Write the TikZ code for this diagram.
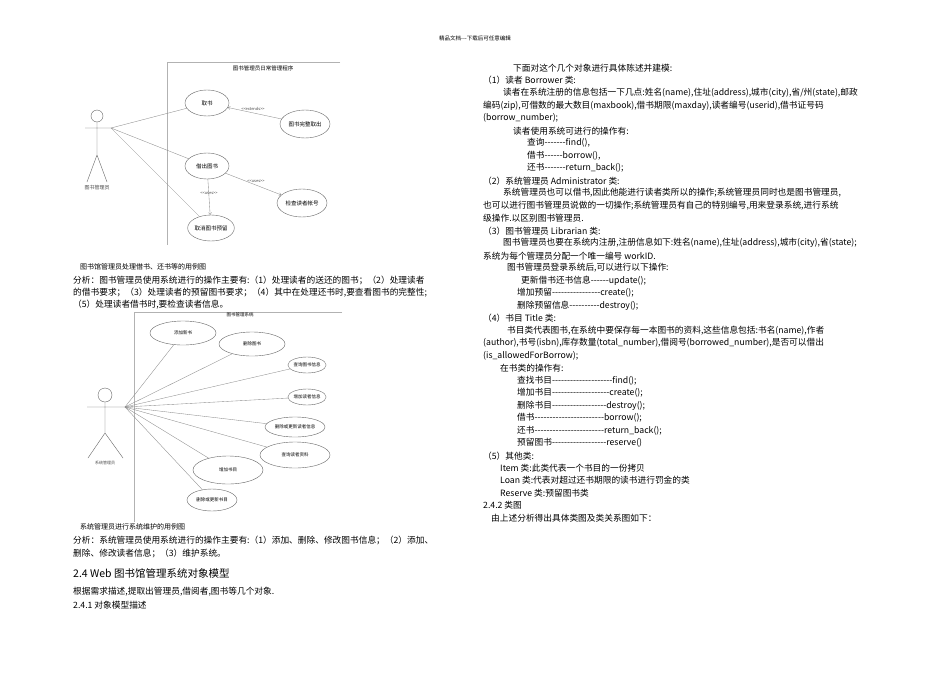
\documentclass[tikz,border=0pt]{standalone}
\usepackage{fontspec}
\setmainfont{Noto Sans CJK SC}[Ligatures=TeXOff]
\usetikzlibrary{shapes.geometric,arrows.meta}
\tikzset{
 txt/.style={anchor=west,inner sep=0pt,font=\fontsize{8.7}{10}\selectfont},
 captxt/.style={anchor=west,inner sep=0pt,font=\fontsize{7}{8}\selectfont},
 uc/.style={ellipse,draw=black!60,line width=0.4pt,inner sep=0pt,font=\fontsize{5.5}{6}\selectfont},
 uc2/.style={ellipse,draw=black!60,line width=0.4pt,inner sep=0pt,font=\fontsize{4.5}{5}\selectfont},
 ln/.style={draw=black!45,line width=0.35pt},
 dep/.style={draw=black!45,line width=0.35pt,-{Straight Barb[length=2pt,width=3pt]}},
 stk/.style={draw=black!60,line width=0.4pt},
 small/.style={inner sep=0pt,font=\fontsize{4}{5}\selectfont,text=black!70},
}
\begin{document}
\begin{tikzpicture}[x=1pt,y=-1pt]
\useasboundingbox[fill=white] (0,0) rectangle (950,672);
\node[inner sep=0pt,font=\fontsize{5.5}{6}\selectfont] (hdr) at (475,38) {精品文档---下载后可任意编辑};

% ---------- diagram 1
\draw[draw=black!30,line width=0.4pt] (340,62) -- (167,62) -- (167,245);
\node[inner sep=0pt,font=\fontsize{5.5}{6}\selectfont] (t1) at (263,68) {图书管理员日常管理程序};
\draw[stk] (97,116) circle (6);
\draw[stk] (97,122) -- (97,155) (85,128) -- (112,128) (87,182) -- (97,155) -- (107,182);
\coordinate (h1) at (111,128);
\node[small,font=\fontsize{5}{6}\selectfont] (a1) at (97,188) {图书管理员};
\node[uc,minimum width=44pt,minimum height=26pt] (u1) at (207,103) {取书};
\node[uc,minimum width=50pt,minimum height=28pt] (u2) at (305,124) {图书完整取出};
\node[uc,minimum width=44pt,minimum height=26pt] (u3) at (207,166) {借出图书};
\node[uc,minimum width=50pt,minimum height=28pt] (u4) at (302,203) {检查读者帐号};
\node[uc,minimum width=46pt,minimum height=26pt] (u5) at (211,228) {取消图书预留};
\draw[ln] (h1) -- (u1) (h1) -- (u3) (h1) -- (u5);
\draw[dep] (u2) -- (u1);
\draw[dep] (u3) -- (u4);
\draw[dep] (u3) -- (u5);
\node[small] (l1) at (253,109) {<<extends>>};
\node[small] (l2) at (256,181) {<<uses>>};
\node[small] (l3) at (209,193) {<<uses>>};

% ---------- left text 1
\node[captxt] (c1) at (80,267) {图书馆管理员处理借书、还书等的用例图};
\node[txt] (p1) at (73,280) {分析：图书管理员使用系统进行的操作主要有:（1）处理读者的送还的图书；（2）处理读者};
\node[txt] (p2) at (73,293) {的借书要求；（3）处理读者的预留图书要求；（4）其中在处理还书时,要查看图书的完整性;};
\node[txt] (p3) at (73,305) {（5）处理读者借书时,要检查读者信息。};

% ---------- diagram 2
\draw[draw=black!30,line width=0.4pt] (342,312) -- (134,312) -- (134,522);
\node[inner sep=0pt,font=\fontsize{4.5}{5}\selectfont] (t2) at (240,315) {图书管理系统};
\draw[stk] (105,395) circle (7);
\draw[stk] (105,402) -- (105,433) (87,407) -- (125,407) (88,458) -- (105,433) -- (123,458);
\coordinate (h2) at (125,407);
\node[small] (a2) at (105,463) {系统管理员};
\node[uc2,minimum width=66pt,minimum height=24pt] (v1) at (183,333) {添加新书};
\node[uc2,minimum width=66pt,minimum height=24pt] (v2) at (252,344) {删除图书};
\node[uc2,minimum width=35pt,minimum height=16pt] (v3) at (307,365) {查询图书信息};
\node[uc2,minimum width=35pt,minimum height=16pt] (v4) at (307,397) {增加读者信息};
\node[uc2,minimum width=60pt,minimum height=20pt] (v5) at (295,427) {删除或更新读者信息};
\node[uc2,minimum width=70pt,minimum height=26pt] (v6) at (295,455) {查询读者资料};
\node[uc2,minimum width=70pt,minimum height=28pt] (v7) at (228,470) {增加书目};
\node[uc2,minimum width=50pt,minimum height=22pt] (v8) at (212,500) {删除或更新书目};
\foreach \v in {v1,v2,v3,v4,v5,v6,v7,v8} \draw[ln] (h2) -- (\v);

% ---------- left text 2
\node[captxt] (c2) at (80,527) {系统管理员进行系统维护的用例图};
\node[txt] (q1) at (73,540) {分析：系统管理员使用系统进行的操作主要有:（1）添加、删除、修改图书信息；（2）添加、};
\node[txt] (q2) at (73,553) {删除、修改读者信息；（3）维护系统。};
\node[txt,font=\fontsize{10.5}{12}\selectfont] (q3) at (73,573) {2.4 Web 图书馆管理系统对象模型};
\node[txt] (q4) at (73,592) {根据需求描述,提取出管理员,借阅者,图书等几个对象.};
\node[txt] (q5) at (73,605) {2.4.1 对象模型描述};

% ---------- right column
\node[txt] (r1) at (513,68) {下面对这个几个对象进行具体陈述并建模:};
\node[txt] (r2) at (483,80) {（1）读者 Borrower 类:};
\node[txt] (r3) at (503,93) {读者在系统注册的信息包括一下几点:姓名(name),住址(address),城市(city),省/州(state),邮政};
\node[txt] (r4) at (483,106) {编码(zip),可借数的最大数目(maxbook),借书期限(maxday),读者编号(userid),借书证号码};
\node[txt] (r5) at (483,118) {(borrow\_number);};
\node[txt] (r6) at (513,131) {读者使用系统可进行的操作有:};
\node[txt] (r7) at (527,143) {查询-------find(),};
\node[txt] (r8) at (527,156) {借书------borrow(),};
\node[txt] (r9) at (527,168) {还书-------return\_back();};
\node[txt] (r10) at (483,181) {（2）系统管理员 Administrator 类:};
\node[txt] (r11) at (503,193) {系统管理员也可以借书,因此他能进行读者类所以的操作;系统管理员同时也是图书管理员,};
\node[txt] (r12) at (483,206) {也可以进行图书管理员说做的一切操作;系统管理员有自己的特别编号,用来登录系统,进行系统};
\node[txt] (r13) at (483,218) {级操作.以区别图书管理员.};
\node[txt] (r14) at (483,231) {（3）图书管理员 Librarian 类:};
\node[txt] (r15) at (503,243) {图书管理员也要在系统内注册,注册信息如下:姓名(name),住址(address),城市(city),省(state);};
\node[txt] (r16) at (483,256) {系统为每个管理员分配一个唯一编号 workID.};
\node[txt] (r17) at (507,268) {图书管理员登录系统后,可以进行以下操作:};
\node[txt] (r18) at (521,281) {更新借书还书信息------update();};
\node[txt] (r19) at (517,293) {增加预留----------------create();};
\node[txt] (r20) at (517,306) {删除预留信息----------destroy();};
\node[txt] (r21) at (483,318) {（4）书目 Title 类:};
\node[txt] (r22) at (507,331) {书目类代表图书,在系统中要保存每一本图书的资料,这些信息包括:书名(name),作者};
\node[txt] (r23) at (483,343) {(author),书号(isbn),库存数量(total\_number),借阅号(borrowed\_number),是否可以借出};
\node[txt] (r24) at (483,356) {(is\_allowedForBorrow);};
\node[txt] (r25) at (500,368) {在书类的操作有:};
\node[txt] (r26) at (517,381) {查找书目--------------------find();};
\node[txt] (r27) at (517,393) {增加书目-------------------create();};
\node[txt] (r28) at (517,406) {删除书目------------------destroy();};
\node[txt] (r29) at (517,418) {借书-----------------------borrow();};
\node[txt] (r30) at (517,431) {还书-----------------------return\_back();};
\node[txt] (r31) at (517,443) {预留图书------------------reserve()};
\node[txt] (r32) at (483,456) {（5）其他类:};
\node[txt] (r33) at (500,468) {Item 类:此类代表一个书目的一份拷贝};
\node[txt] (r34) at (500,480) {Loan 类:代表对超过还书期限的读书进行罚金的类};
\node[txt] (r35) at (500,493) {Reserve 类:预留图书类};
\node[txt] (r36) at (483,505) {2.4.2 类图};
\node[txt] (r37) at (491,518) {由上述分析得出具体类图及类关系图如下：};
\end{tikzpicture}
\end{document}
